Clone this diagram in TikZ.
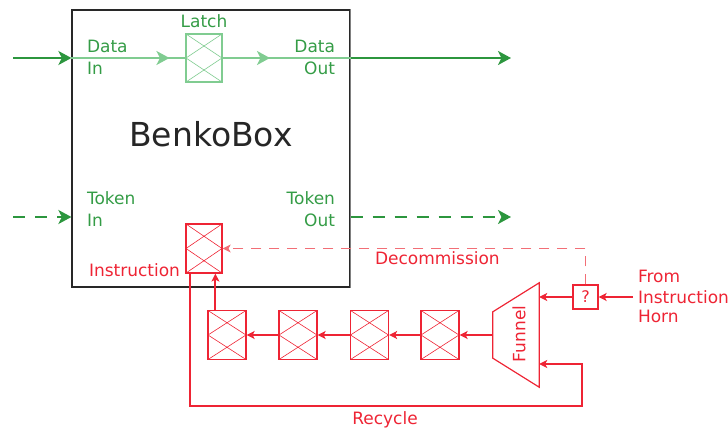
\documentclass[tikz,border=0pt]{standalone}
\usepackage{fontspec}
\setmainfont{DejaVu Sans}
\usetikzlibrary{arrows.meta,calc,decorations.markings}
\definecolor{dkgreen}{RGB}{44,150,62}
\definecolor{txgreen}{RGB}{52,156,70}
\definecolor{ltgreen}{RGB}{128,204,145}
\definecolor{myred}{RGB}{238,36,52}
\definecolor{ltred}{RGB}{242,110,118}
\definecolor{boxgray}{RGB}{40,40,40}
\begin{document}
\begin{tikzpicture}[x=1pt,y=-1pt,
  lbl/.style={font=\fontsize{17}{22.5}\selectfont, inner sep=0pt, outer sep=0pt},
  cell/.style={draw=#1, line width=1.2pt, minimum width=36pt, minimum height=49pt, inner sep=0pt,
    path picture={\draw[#1, line width=0.6pt] (path picture bounding box.north west) -- (path picture bounding box.east) -- (path picture bounding box.south west);
                  \draw[#1, line width=0.6pt] (path picture bounding box.north east) -- (path picture bounding box.west) -- (path picture bounding box.south east);}},
  garrow/.style={dkgreen, line width=2pt, -{Stealth[length=13pt,width=14pt,inset=3.5pt]}},
  gdash/.style={dash pattern=on 12pt off 10pt},
  ginner/.style={ltgreen, line width=2pt, postaction={decorate, decoration={markings, mark=at position #1 with {\arrow{Stealth[length=13pt,width=14pt,inset=3.5pt]}}}}},
  rarrow/.style={myred, line width=2pt, -{Stealth[length=8pt,width=8pt,inset=2pt]}},
]
\useasboundingbox (0,0) rectangle (728,430);

% main box
\node[draw=boxgray, line width=1.2pt, minimum width=278pt, minimum height=277pt, inner sep=0pt] (bb) at (211,148.5) {};
\draw[gray, line width=1.6pt] (bb.north east) -- (bb.south east);
\node[font=\fontsize{33}{33}\selectfont, inner sep=0pt, anchor=base, text=black!85] (title) at (211,147) {BenkoBox};

% latch and data path
\node[cell=ltgreen, minimum height=48pt] (latch) at (204,58) {};
\node[lbl, text=txgreen, anchor=base] (latchl) at (204,28) {Latch};
\coordinate (din) at (13,58);
\coordinate (dout) at (511,58);
\draw[garrow] (din) -- (din -| bb.west);
\draw[ginner=0.86] (din -| bb.west) -- (latch.west);
\draw[ginner=0.37] (latch.east) -- (latch -| bb.east);
\draw[garrow] (latch -| bb.east) -- (dout);
\node[lbl, text=txgreen, anchor=base west, align=left] (dinl) at (87,75) {Data\\In};
\node[lbl, text=txgreen, anchor=base east, align=right] (doutl) at (335,75) {Data\\Out};

% token path
\coordinate (tin) at (13,217);
\coordinate (tout) at (511,217);
\draw[garrow, gdash] (tin) -- (tin -| bb.west);
\draw[garrow, gdash] (tin -| bb.east) -- (tout);
\node[lbl, text=txgreen, anchor=base west, align=left] (tinl) at (87,227) {Token\\In};
\node[lbl, text=txgreen, anchor=base east, align=right] (toutl) at (335,227) {Token\\Out};

% instruction register
\node[cell=myred] (instr) at (204,248.5) {};
\node[lbl, text=myred, anchor=base east] (instrl) at (180,277) {Instruction};

% register chain
\node[cell=myred, minimum width=38pt] (r1) at (227,335) {};
\node[cell=myred, minimum width=38pt] (r2) at (298,335) {};
\node[cell=myred, minimum width=38pt] (r3) at (369.5,335) {};
\node[cell=myred, minimum width=38pt] (r4) at (440,335) {};

% funnel
\node[minimum width=46pt, minimum height=104pt, inner sep=0pt] (funnel) at (516,335) {};
\draw[myred, line width=1.2pt] (funnel.north east) -- (funnel.south east) -- ($(funnel.south west)+(0,-29)$) -- ($(funnel.north west)+(0,29)$) -- cycle;
\node[lbl, text=myred, rotate=90] (funnell) at (519,334) {Funnel};

% ? box
\node[draw=myred, line width=1.2pt, minimum width=25pt, minimum height=24pt, inner sep=0pt, font=\fontsize{16}{16}\selectfont, text=myred] (q) at (585.5,297) {?};
\coordinate (horn) at (633,297);
\draw[rarrow] (horn) -- (q.east);
\node[lbl, text=myred, anchor=base west, align=left, font=\fontsize{17}{20}\selectfont] (hornl) at (638,323) {From\\Instruction\\Horn};
\draw[rarrow] (q.west) -- (q.west -| funnel.east);

% chain arrows
\draw[rarrow] (funnel.west) -- (r4.east);
\draw[rarrow] (r4.west) -- (r3.east);
\draw[rarrow] (r3.west) -- (r2.east);
\draw[rarrow] (r2.west) -- (r1.east);
\draw[rarrow] ($(r1.north west)+(8,0)$) -- ($(instr.south west)+(30,0)$);

% decommission
\draw[ltred, line width=1.2pt, dash pattern=on 10pt off 8pt, -{Stealth[length=8pt,width=8pt,inset=2pt]}] (q.north) |- (instr.east);
\node[lbl, text=myred, anchor=base west] (decl) at (375,265) {Decommission};

% recycle
\coordinate (rs) at ($(instr.south west)+(5,0)$);
\coordinate (fin2) at ($(funnel.east)+(0,29)$);
\draw[rarrow] (rs) |- (582,406) |- (fin2);
\node[lbl, text=myred, anchor=base] (recl) at (385,424) {Recycle};
\end{tikzpicture}
\end{document}
